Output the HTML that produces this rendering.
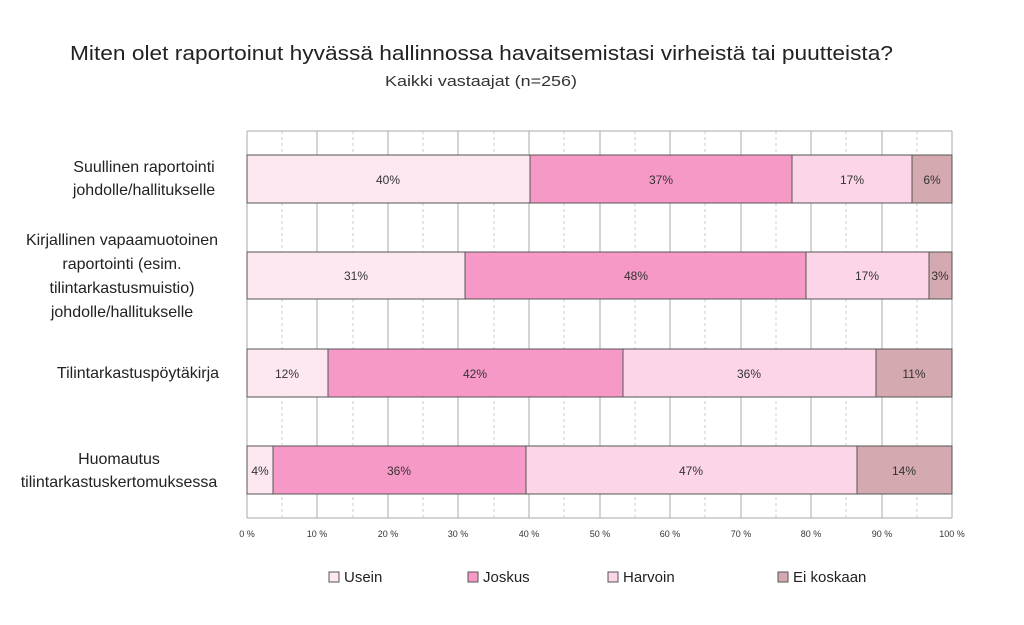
<!DOCTYPE html>
<html><head><meta charset="utf-8"><style>body{margin:0;background:#fff}svg{display:block}text{font-family:"Liberation Sans",sans-serif}</style></head><body>
<svg width="1024" height="625" viewBox="0 0 1024 625" xmlns="http://www.w3.org/2000/svg">
<text x="70" y="60" font-size="20" fill="#222" textLength="823" lengthAdjust="spacingAndGlyphs">Miten olet raportoinut hyvässä hallinnossa havaitsemistasi virheistä tai puutteista?</text>
<text x="385" y="86" font-size="15" fill="#333" textLength="192" lengthAdjust="spacingAndGlyphs">Kaikki vastaajat (n=256)</text>
<g stroke="#ccc" stroke-dasharray="3,3" stroke-width="1">
<line x1="282" y1="131" x2="282" y2="518"/><line x1="353" y1="131" x2="353" y2="518"/><line x1="423" y1="131" x2="423" y2="518"/><line x1="494" y1="131" x2="494" y2="518"/><line x1="564" y1="131" x2="564" y2="518"/><line x1="635" y1="131" x2="635" y2="518"/><line x1="705" y1="131" x2="705" y2="518"/><line x1="776" y1="131" x2="776" y2="518"/><line x1="846" y1="131" x2="846" y2="518"/><line x1="917" y1="131" x2="917" y2="518"/>
</g>
<g stroke="#aaa" stroke-width="1">
<line x1="247" y1="131" x2="952" y2="131"/><line x1="247" y1="518" x2="952" y2="518"/>
<line x1="247" y1="131" x2="247" y2="518"/><line x1="317" y1="131" x2="317" y2="518"/><line x1="388" y1="131" x2="388" y2="518"/><line x1="458" y1="131" x2="458" y2="518"/><line x1="529" y1="131" x2="529" y2="518"/><line x1="600" y1="131" x2="600" y2="518"/><line x1="670" y1="131" x2="670" y2="518"/><line x1="741" y1="131" x2="741" y2="518"/><line x1="811" y1="131" x2="811" y2="518"/><line x1="882" y1="131" x2="882" y2="518"/><line x1="952" y1="131" x2="952" y2="518"/>
</g>
<g stroke="#555" stroke-width="1">
<rect x="247" y="155" width="283" height="48" fill="#fde8f2"/><rect x="530" y="155" width="262" height="48" fill="#f799c6"/><rect x="792" y="155" width="120" height="48" fill="#fdd5e8"/><rect x="912" y="155" width="40" height="48" fill="#d4a9b0"/>
<rect x="247" y="252" width="218" height="47" fill="#fde8f2"/><rect x="465" y="252" width="341" height="47" fill="#f799c6"/><rect x="806" y="252" width="123" height="47" fill="#fdd5e8"/><rect x="929" y="252" width="23" height="47" fill="#d4a9b0"/>
<rect x="247" y="349" width="81" height="48" fill="#fde8f2"/><rect x="328" y="349" width="295" height="48" fill="#f799c6"/><rect x="623" y="349" width="253" height="48" fill="#fdd5e8"/><rect x="876" y="349" width="76" height="48" fill="#d4a9b0"/>
<rect x="247" y="446" width="26" height="48" fill="#fde8f2"/><rect x="273" y="446" width="253" height="48" fill="#f799c6"/><rect x="526" y="446" width="331" height="48" fill="#fdd5e8"/><rect x="857" y="446" width="95" height="48" fill="#d4a9b0"/>
</g>
<g font-size="12" fill="#333" text-anchor="middle">
<text x="388" y="184">40%</text><text x="661" y="184">37%</text><text x="852" y="184">17%</text><text x="932" y="184">6%</text>
<text x="356" y="280">31%</text><text x="636" y="280">48%</text><text x="867" y="280">17%</text><text x="940" y="280">3%</text>
<text x="287" y="378">12%</text><text x="475" y="378">42%</text><text x="749" y="378">36%</text><text x="914" y="378">11%</text>
<text x="260" y="475">4%</text><text x="399" y="475">36%</text><text x="691" y="475">47%</text><text x="904" y="475">14%</text>
</g>
<g font-size="9" fill="#333" text-anchor="middle">
<text x="247" y="537">0 %</text><text x="317" y="537">10 %</text><text x="388" y="537">20 %</text><text x="458" y="537">30 %</text><text x="529" y="537">40 %</text><text x="600" y="537">50 %</text><text x="670" y="537">60 %</text><text x="741" y="537">70 %</text><text x="811" y="537">80 %</text><text x="882" y="537">90 %</text><text x="952" y="537">100 %</text>
</g>
<g font-size="16" fill="#222" text-anchor="middle">
<text x="144" y="172">Suullinen raportointi</text><text x="144" y="195">johdolle/hallitukselle</text>
<text x="122" y="245">Kirjallinen vapaamuotoinen</text><text x="122" y="269">raportointi (esim.</text><text x="122" y="293">tilintarkastusmuistio)</text><text x="122" y="317">johdolle/hallitukselle</text>
<text x="138" y="378">Tilintarkastuspöytäkirja</text>
<text x="119" y="464">Huomautus</text><text x="119" y="487">tilintarkastuskertomuksessa</text>
</g>
<g stroke="#555" stroke-width="1">
<rect x="329" y="572" width="10" height="10" fill="#fde8f2"/><rect x="468" y="572" width="10" height="10" fill="#f799c6"/><rect x="608" y="572" width="10" height="10" fill="#fdd5e8"/><rect x="778" y="572" width="10" height="10" fill="#d4a9b0"/>
</g>
<g font-size="15" fill="#222">
<text x="344" y="582">Usein</text><text x="483" y="582">Joskus</text><text x="623" y="582">Harvoin</text><text x="793" y="582">Ei koskaan</text>
</g>
</svg>
</body></html>
